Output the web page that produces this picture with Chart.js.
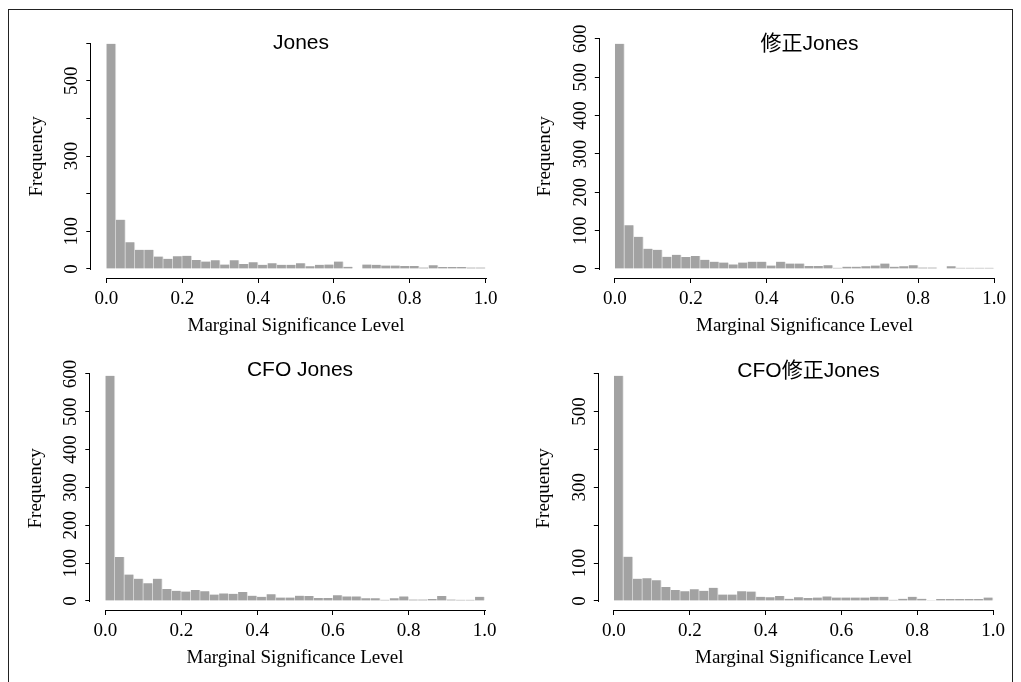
<!DOCTYPE html>
<html>
<head>
<meta charset="utf-8">
<script src="https://cdn.jsdelivr.net/npm/chart.js@4.4.1/dist/chart.umd.min.js"></script>
<style>
  html, body { margin: 0; padding: 0; background: #fff; }
  body { width: 1021px; height: 682px; position: relative; overflow: hidden; }
  #frame { position: absolute; left: 8px; top: 9px; width: 1005px; height: 720px;
           border: 1px solid #222; box-sizing: border-box; }
  canvas { position: absolute; }
</style>
</head>
<body>
<div id="frame"></div>
<canvas id="c1" width="500" height="333" style="left:10px;top:12px"></canvas>
<canvas id="c2" width="500" height="333" style="left:515px;top:12px"></canvas>
<canvas id="c3" width="500" height="337" style="left:10px;top:345px"></canvas>
<canvas id="c4" width="500" height="337" style="left:515px;top:345px"></canvas>
<script>
// ---- data ----
const breaks = [0, 0.025, 0.05, 0.075, 0.1, 0.125, 0.15, 0.175, 0.2, 0.225,
                0.25, 0.275, 0.3, 0.325, 0.35, 0.375, 0.4, 0.425, 0.45, 0.475,
                0.5, 0.525, 0.55, 0.575, 0.6, 0.625, 0.65, 0.675, 0.7, 0.725,
                0.75, 0.775, 0.8, 0.825, 0.85, 0.875, 0.9, 0.925, 0.95, 0.975, 1];

const jonesCounts       = [598,131,71,51,51,33,27,34,35,24,20,23,12,23,13,18,11,15,11,11,15,7,11,12,20,6,1,12,11,9,9,8,8,4,10,5,5,5,4,4];
const modJonesCounts    = [587,114,84,53,50,32,37,31,34,24,19,17,12,17,19,19,9,19,14,14,8,8,10,3,6,6,7,9,14,6,7,10,4,4,1,7,3,3,3,3];
const cfoJonesCounts    = [595,116,70,59,47,59,32,27,25,29,26,17,20,19,24,14,11,18,9,9,14,13,8,8,15,12,12,7,7,3,7,12,4,4,5,13,4,3,3,11];
const cfoModJonesCounts = [594,117,59,60,55,37,29,26,31,27,35,17,17,26,25,11,10,13,6,10,8,9,12,9,9,9,9,11,11,3,6,11,6,2,5,5,5,5,5,9];

const panelTitles = ['Jones', '修正Jones', 'CFO Jones', 'CFO修正Jones'];
const xTickLabels = ['0.0', '0.2', '0.4', '0.6', '0.8', '1.0'];
const yTickLabelsSparse = ['0', '100', '', '300', '', '500', ''];
const yTickLabelsFull = ['0', '100', '200', '300', '400', '500', '600'];
const xAxisTitle = 'Marginal Significance Level';
const yAxisTitle = 'Frequency';

// ---- styling / layout ----
const SERIF = '"Liberation Serif", "Times New Roman", serif';
const SANS = '"Liberation Sans", Arial, "Noto Sans CJK JP", sans-serif';
const BAR_FILL = '#a2a2a2';
const BAR_EDGE = '#e2e2e2';
const TICK_LEN = 5;
const FONT_SIZE = 19;
const LINE_H = FONT_SIZE * 1.2;

const rAxes = {
  id: 'rAxes',
  afterDraw(chart) {
    const ctx = chart.ctx;
    const xs = chart.scales.x, ys = chart.scales.y;
    const xt = xs.ticks, yt = ys.ticks;
    ctx.save();
    ctx.strokeStyle = '#000';
    ctx.lineWidth = 1;
    ctx.beginPath();
    const yLine = Math.round(xs.top) + 0.5;
    ctx.moveTo(Math.round(xs.getPixelForValue(xt[0].value)), yLine);
    ctx.lineTo(Math.round(xs.getPixelForValue(xt[xt.length - 1].value)) + 1, yLine);
    const xLine = Math.round(ys.right) - 0.5;
    ctx.moveTo(xLine, Math.round(ys.getPixelForValue(yt[0].value)) + 1);
    ctx.lineTo(xLine, Math.round(ys.getPixelForValue(yt[yt.length - 1].value)));
    ctx.stroke();
    ctx.restore();
  }
};

const panelTitle = {
  id: 'panelTitle',
  afterDraw(chart, args, opts) {
    const { ctx, chartArea } = chart;
    ctx.save();
    ctx.font = opts.font;
    ctx.fillStyle = '#000';
    ctx.textAlign = 'center';
    ctx.textBaseline = 'alphabetic';
    ctx.fillText(opts.text, (chartArea.left + chartArea.right) / 2 + opts.dx, opts.y);
    ctx.restore();
  }
};

function makePanel(spec) {
  const { canvasId, counts, yLabels, title, canvasRect, region, titleBaseline } = spec;
  const M = Math.max(...counts);
  const points = counts.map((c, i) => ({ x: (breaks[i] + breaks[i + 1]) / 2, y: c }));
  const xScaleHeight = canvasRect.top + canvasRect.height - region.bottom;
  const yScaleWidth = region.left - canvasRect.left;

  new Chart(document.getElementById(canvasId), {
    type: 'bar',
    data: {
      datasets: [{
        data: points,
        backgroundColor: BAR_FILL,
        borderColor: BAR_EDGE,
        borderWidth: { top: 0, bottom: 0, left: 0, right: 1 },
        borderSkipped: false,
        barPercentage: 1,
        categoryPercentage: 1
      }]
    },
    options: {
      responsive: false,
      animation: false,
      devicePixelRatio: 1,
      events: [],
      layout: {
        padding: {
          top: region.top - canvasRect.top,
          right: canvasRect.left + canvasRect.width - region.right,
          left: 0,
          bottom: 0
        }
      },
      plugins: {
        legend: { display: false },
        tooltip: { enabled: false },
        title: { display: false },
        panelTitle: {
          text: title,
          font: '21px ' + SANS,
          dx: 5,
          y: titleBaseline - canvasRect.top
        }
      },
      scales: {
        x: {
          type: 'linear',
          position: 'bottom',
          min: -0.04,
          max: 1.04,
          offset: false,
          grid: { offset: false, drawOnChartArea: false, drawTicks: true, tickLength: TICK_LEN, color: '#000', lineWidth: 1 },
          border: { display: false },
          ticks: {
            stepSize: 0.2,
            includeBounds: false,
            autoSkip: false,
            maxRotation: 0,
            minRotation: 0,
            padding: 4.2,
            color: '#000',
            font: { family: SERIF, size: FONT_SIZE },
            callback: (v, i) => xTickLabels[i]
          },
          title: {
            display: true,
            text: xAxisTitle,
            color: '#000',
            font: { family: SERIF, size: FONT_SIZE },
            padding: { top: 0, bottom: (canvasRect.top + canvasRect.height) - (region.bottom + 47.7) - LINE_H / 2 }
          },
          afterFit: (s) => { s.height = xScaleHeight; }
        },
        y: {
          type: 'linear',
          position: 'left',
          min: -0.04 * M,
          max: 1.04 * M,
          grid: { drawOnChartArea: false, drawTicks: true, tickLength: TICK_LEN, color: '#000', lineWidth: 1 },
          border: { display: false },
          ticks: {
            stepSize: 100,
            includeBounds: false,
            autoSkip: false,
            minRotation: 90,
            maxRotation: 90,
            crossAlign: 'center',
            padding: 0,
            color: '#000',
            font: { family: SERIF, size: FONT_SIZE },
            callback: (v) => yLabels[Math.round(v / 100)]
          },
          title: {
            display: true,
            text: yAxisTitle,
            color: '#000',
            font: { family: SERIF, size: FONT_SIZE },
            padding: { top: (region.left - 54.5) - canvasRect.left - LINE_H / 2, bottom: 0 }
          },
          afterFit: (s) => { s.width = yScaleWidth; }
        }
      }
    },
    plugins: [rAxes, panelTitle]
  });
}

makePanel({
  canvasId: 'c1', counts: jonesCounts, yLabels: yTickLabelsSparse, title: panelTitles[0],
  canvasRect: { left: 10, top: 12, width: 500, height: 333 },
  region: { left: 91.3, right: 500.7, top: 34.8, bottom: 278 },
  titleBaseline: 49
});
makePanel({
  canvasId: 'c2', counts: modJonesCounts, yLabels: yTickLabelsFull, title: panelTitles[1],
  canvasRect: { left: 515, top: 12, width: 500, height: 333 },
  region: { left: 599.8, right: 1009.2, top: 34.8, bottom: 278 },
  titleBaseline: 50
});
makePanel({
  canvasId: 'c3', counts: cfoJonesCounts, yLabels: yTickLabelsFull, title: panelTitles[2],
  canvasRect: { left: 10, top: 345, width: 500, height: 337 },
  region: { left: 90.3, right: 499.7, top: 366.8, bottom: 610 },
  titleBaseline: 376
});
makePanel({
  canvasId: 'c4', counts: cfoModJonesCounts, yLabels: yTickLabelsSparse, title: panelTitles[3],
  canvasRect: { left: 515, top: 345, width: 500, height: 337 },
  region: { left: 598.8, right: 1008.2, top: 366.8, bottom: 610 },
  titleBaseline: 377
});
</script>
</body>
</html>
